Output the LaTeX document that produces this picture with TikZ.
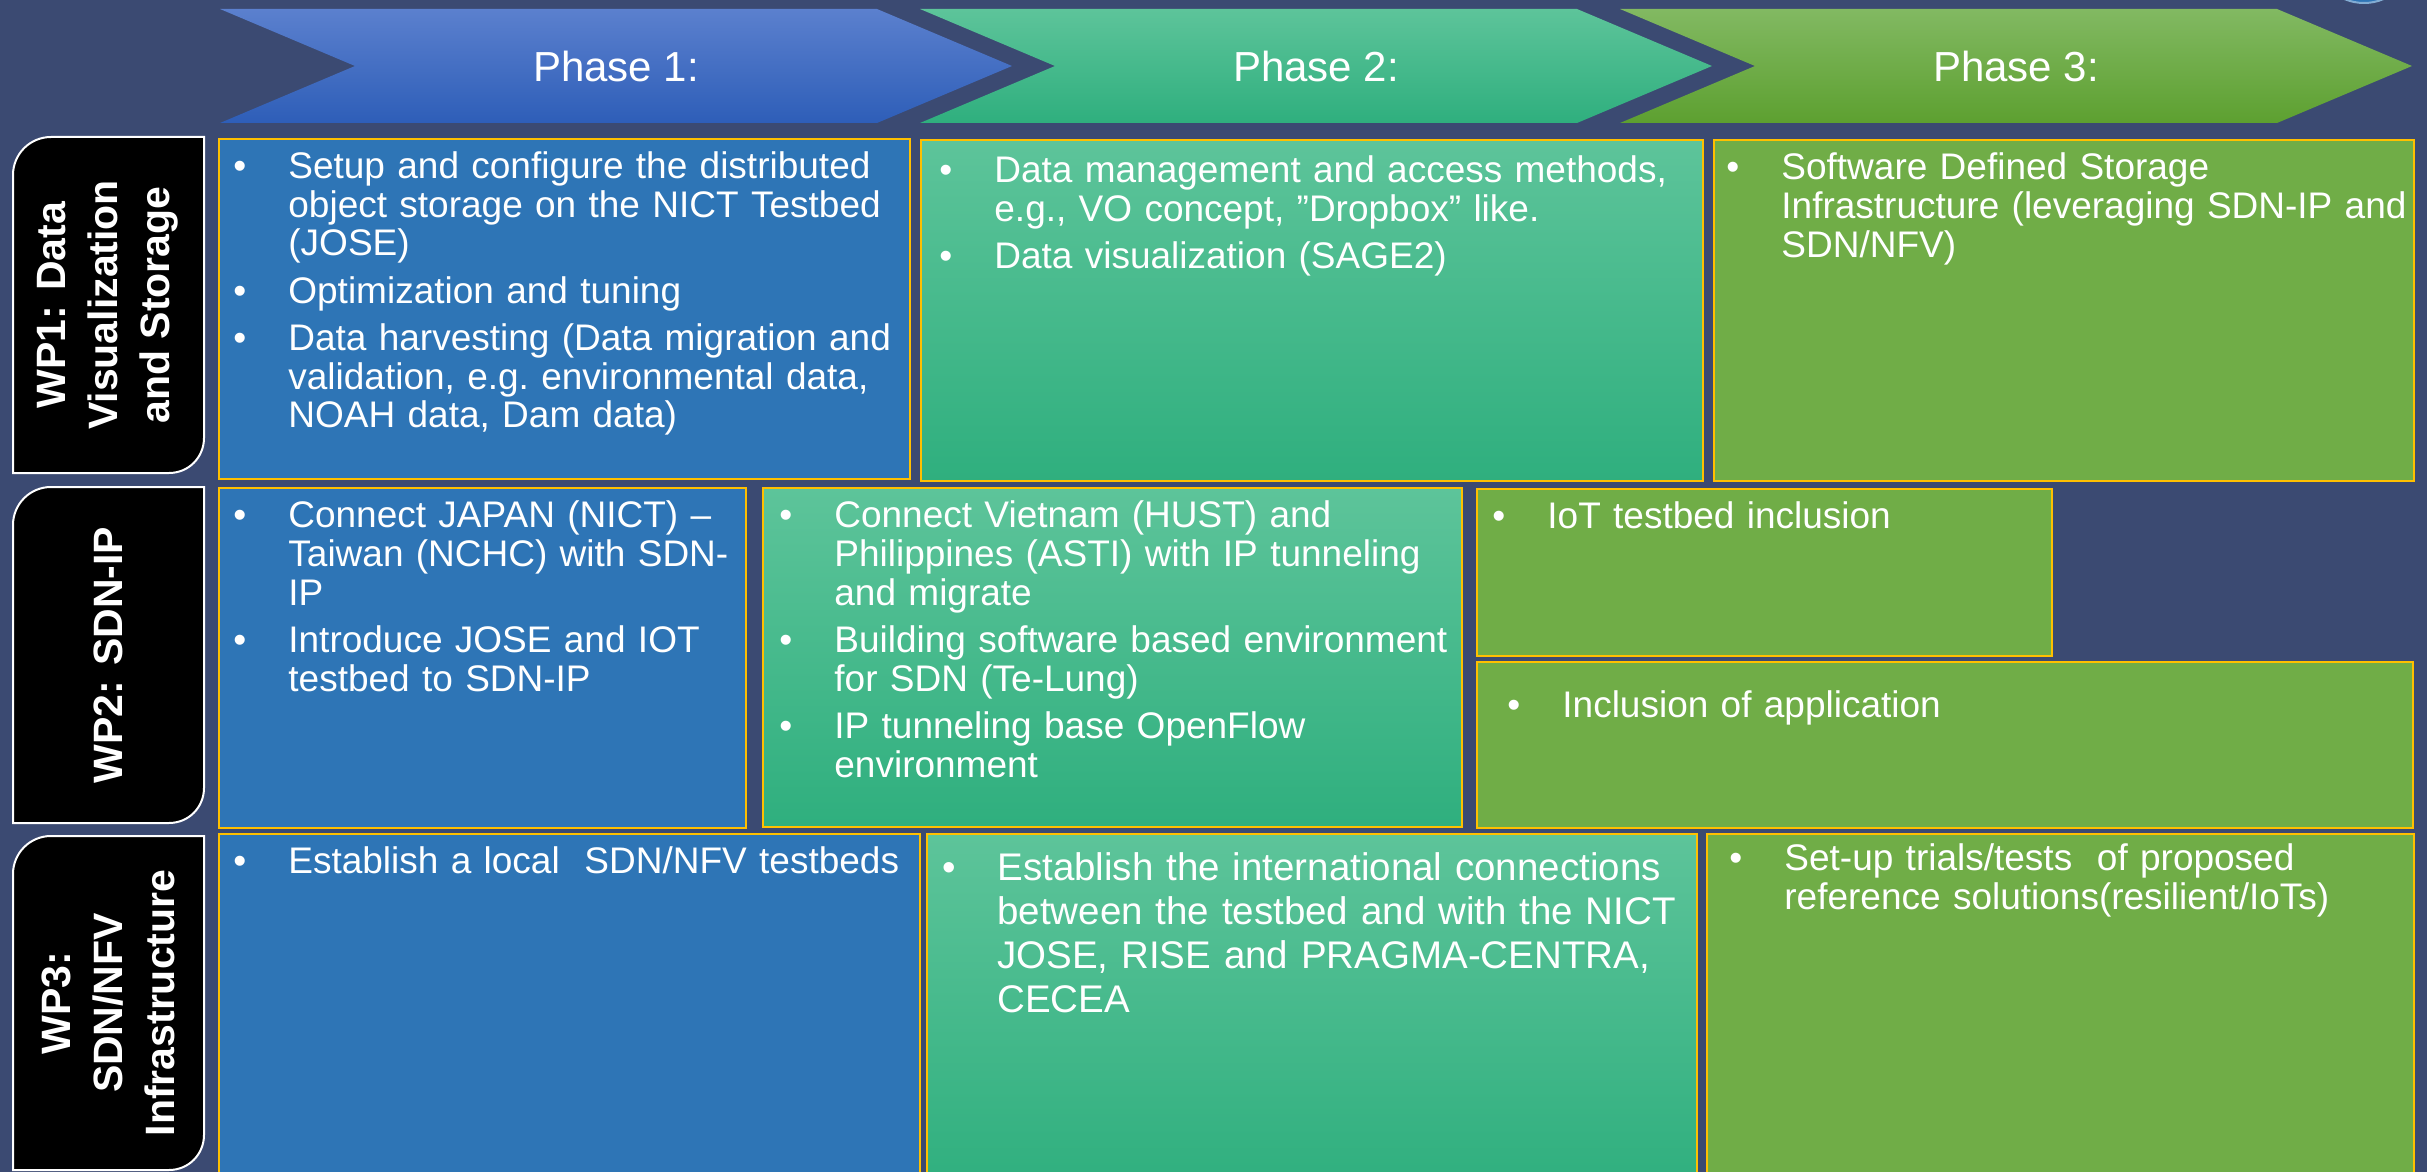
\documentclass[tikz,border=0pt]{standalone}
\usepackage{fontspec}
\setmainfont{Liberation Sans}
\usepackage{xcolor}
\usepackage{tikz}

\definecolor{slidebg}{HTML}{3B4A72}
\definecolor{cellblue}{HTML}{2E75B6}
\definecolor{cellolive}{HTML}{70AD47}
\definecolor{cellgold}{HTML}{FFC000}
\definecolor{greentop}{HTML}{5DC49A}
\definecolor{greenmid}{HTML}{3DC08D}
\definecolor{greenbot}{HTML}{2FAF7E}
\definecolor{chevAtop}{HTML}{5B80CE}
\definecolor{chevAbot}{HTML}{2E5EB8}
\definecolor{chevCtop}{HTML}{82B962}
\definecolor{chevCbot}{HTML}{5DA030}

\newcommand{\cellfont}{\fontsize{18.5}{19.5}\selectfont\frenchspacing}
\newcommand{\bigcellfont}{\fontsize{19.25}{22}\selectfont\frenchspacing}
\newcommand{\wpfont}{\fontsize{20.5}{26}\selectfont\bfseries}
\newcommand{\phasefont}{\fontsize{21}{25}\selectfont}
% one bullet (hanging), line break inside a bullet
\newcommand{\bitem}[1]{\setlength{\parskip}{4pt}\hangindent=27.5pt\hangafter=1\noindent\makebox[27.5pt][l]{•}#1\par}
\newcommand{\brk}{\hfil\break}

\tikzset{
  cell/.style={draw=cellgold, line width=0.75pt},
  greencell/.style={cell, top color=greentop, middle color=greenmid, bottom color=greenbot},
  wpbox/.style={fill=black, draw=white, line width=1pt},
  celltext/.style={anchor=base west, inner sep=0pt, align=left, text=white, font=\cellfont, text width=380pt},
  wptext/.style={rotate=90, align=center, text=white, font=\wpfont, inner sep=0pt},
  phasetext/.style={text=white, font=\phasefont, inner sep=0pt}
}

\begin{document}
\begin{tikzpicture}[x=0.5pt,y=0.5pt,yscale=-1,xscale=1]
\useasboundingbox (0,0) rectangle (2427,1172);
%Background
\fill[slidebg] (0,0) rectangle (2427,1172);
%Shape: Circle (slide corner)
\draw[fill=cellblue, draw=cellblue!60!white, line width=1pt] (2364,-47) circle (50);

%Shape: Chevron [Phase 1]
\path[top color=chevAtop, bottom color=chevAbot] (220,9) -- (877,9) -- (1012,66) -- (877,123) -- (220,123) -- (355,66) -- cycle;
%Shape: Chevron [Phase 2]
\path[top color=greentop, bottom color=greenbot] (920,9) -- (1577,9) -- (1712,66) -- (1577,123) -- (920,123) -- (1055,66) -- cycle;
%Shape: Chevron [Phase 3]
\path[top color=chevCtop, bottom color=chevCbot] (1620,9) -- (2277,9) -- (2412,66) -- (2277,123) -- (1620,123) -- (1755,66) -- cycle;

%Shape: Label WP1
\draw[wpbox] (13,473) -- (13,175) .. controls (13,154) and (30,137) .. (51,137) -- (204,137) -- (204,438) .. controls (204,457) and (189,473) .. (169,473) -- cycle;
%Shape: Label WP2
\draw[wpbox] (13,823) -- (13,525) .. controls (13,504) and (30,487) .. (51,487) -- (204,487) -- (204,788) .. controls (204,807) and (189,823) .. (169,823) -- cycle;
%Shape: Label WP3
\draw[wpbox] (13,1170) -- (13,874) .. controls (13,853) and (30,836) .. (51,836) -- (204,836) -- (204,1135) .. controls (204,1154) and (189,1170) .. (169,1170) -- cycle;

%Shape: Rectangle [WP1]
\draw[cell, fill=cellblue] (219,139) rectangle (910,479);
\draw[greencell] (921,140) rectangle (1703,481);
\draw[cell, fill=cellolive] (1714,140) rectangle (2414,481);
%Shape: Rectangle [WP2]
\draw[cell, fill=cellblue] (219,488) rectangle (746,828);
\draw[greencell] (763,488) rectangle (1462,827);
\draw[cell, fill=cellolive] (1477,489) rectangle (2052,656);
\draw[cell, fill=cellolive] (1477,662) rectangle (2413,828);
%Shape: Rectangle [WP3]
\draw[cell, fill=cellblue] (219,834) rectangle (920,1190);
\draw[greencell] (927,834) rectangle (1697,1190);
\draw[cell, fill=cellolive] (1707,834) rectangle (2414,1190);

% Text Node
\draw (616,66) node (phaseone) [phasetext] {Phase 1:};
% Text Node
\draw (1316,66) node (phasetwo) [phasetext] {Phase 2:};
% Text Node
\draw (2016,66) node (phasethree) [phasetext] {Phase 3:};

% Text Node
\draw (108,305) node (wpone) [wptext] {WP1: Data\\Visualization\\and Storage};
% Text Node
\draw (108,655) node (wptwo) [wptext] {WP2: SDN-IP};
% Text Node
\draw (108,1003) node (wpthree) [wptext] {WP3:\\SDN/NFV\\Infrastructure};

% Text Node
\draw (233,178) node (storage) [celltext] {\bitem{Setup and configure the distributed\brk object storage on the NICT Testbed\brk (JOSE)}\bitem{Optimization and tuning}\bitem{Data harvesting (Data migration and\brk validation, e.g. environmental data,\brk NOAH data, Dam data)}};
% Text Node
\draw (939,183) node (access) [celltext] {\bitem{Data management and access methods,\brk e.g., VO concept, ”Dropbox” like.}\bitem{Data visualization (SAGE2)}};
% Text Node
\draw (1726,180) node (sds) [celltext] {\bitem{Software Defined Storage\brk Infrastructure (leveraging SDN-IP and\brk SDN/NFV)}};

% Text Node
\draw (233,527) node (japan) [celltext] {\bitem{Connect JAPAN (NICT) –\brk Taiwan (NCHC) with SDN-\brk IP}\bitem{Introduce JOSE and IOT\brk testbed to SDN-IP}};
% Text Node
\draw (779,527) node (vietnam) [celltext] {\bitem{Connect Vietnam (HUST) and\brk Philippines (ASTI) with IP tunneling\brk and migrate}\bitem{Building software based environment\brk for SDN (Te-Lung)}\bitem{IP tunneling base OpenFlow\brk environment}};
% Text Node
\draw (1492,528) node (iot) [celltext] {\bitem{IoT testbed inclusion}};
% Text Node
\draw (1507,717) node (app) [celltext] {\bitem{Inclusion of application}};

% Text Node
\draw (233,873) node (local) [celltext] {\bitem{Establish a local\ \ SDN/NFV testbeds}};
% Text Node
\draw (942,880) node (intl) [celltext, font=\bigcellfont] {\bitem{Establish the international connections\brk between the testbed and with the NICT\brk JOSE, RISE and PRAGMA-CENTRA,\brk CECEA}};
% Text Node
\draw (1729,870) node (trials) [celltext] {\bitem{Set-up trials/tests\ \ of proposed\brk reference solutions(resilient/IoTs)}};

\end{tikzpicture}
\end{document}
